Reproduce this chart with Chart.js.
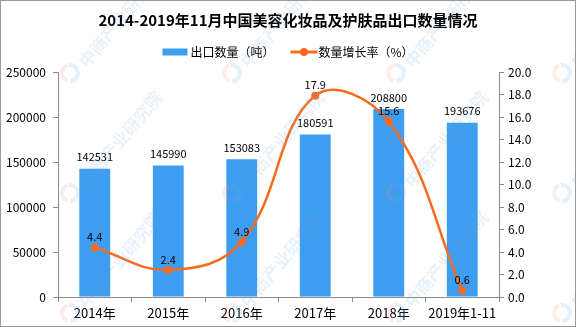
<!DOCTYPE html>
<html>
<head>
<meta charset="utf-8">
<script src="https://cdn.jsdelivr.net/npm/chart.js@4.4.1/dist/chart.umd.min.js"></script>
<style>
html, body { margin: 0; padding: 0; background: #fff; }
#wrap { width: 576px; height: 327px; }
</style>
</head>
<body>
<div id="wrap"><canvas id="exportCanvas" width="576" height="327"></canvas></div>
<script>
const years = ["2014年", "2015年", "2016年", "2017年", "2018年", "2019年1-11"]
const exportTons = [142531, 145990, 153083, 180591, 208800, 193676]
const growthRate = [4.4, 2.4, 4.9, 17.9, 15.6, 0.6]
const tonTicks = [0, 50000, 100000, 150000, 200000, 250000]
const rateTicks = [0, 2, 4, 6, 8, 10, 12, 14, 16, 18, 20]

const BLUE = '#3d9df0'
const ORANGE = '#f86b1e'
const AXIS = '#8c8c8c'
const FONT = "'Noto Sans CJK SC', 'Liberation Sans', sans-serif"

// value labels above bars and line points
const valueLabels = {
    id: 'valueLabels',
    afterDatasetsDraw(chart) {
        const ctx = chart.ctx
        ctx.save()
        ctx.font = '11px ' + FONT
        ctx.fillStyle = '#000'
        ctx.textAlign = 'center'
        ctx.textBaseline = 'bottom'
        chart.getDatasetMeta(0).data.forEach((bar, i) => {
            ctx.fillText(String(exportTons[i]), bar.x, bar.y - 6)
        })
        chart.getDatasetMeta(1).data.forEach((pt, i) => {
            ctx.fillText(growthRate[i].toFixed(1), pt.x, pt.y - 5)
        })
        ctx.restore()
    }
}

// legend markers: blue block and orange line with a dot
const legendMarks = {
    id: 'legendMarks',
    afterDraw(chart) {
        const boxes = chart.legend.legendHitBoxes
        if (!boxes || boxes.length < 2) return
        const ctx = chart.ctx
        ctx.save()
        const a = boxes[0], b = boxes[1]
        const ya = a.top + a.height / 2
        ctx.fillStyle = BLUE
        ctx.fillRect(a.left, ya - 3.5, 25, 7)
        const yb = b.top + b.height / 2
        ctx.strokeStyle = ORANGE
        ctx.lineWidth = 3
        ctx.beginPath()
        ctx.moveTo(b.left, yb)
        ctx.lineTo(b.left + 27, yb)
        ctx.stroke()
        ctx.fillStyle = ORANGE
        ctx.beginPath()
        ctx.arc(b.left + 13.5, yb, 4, 0, Math.PI * 2)
        ctx.fill()
        ctx.restore()
    }
}

// faint diagonal watermark and frame
const watermark = {
    id: 'watermark',
    afterDraw(chart) {
        const ctx = chart.ctx
        ctx.save()
        const cols = [-94, 70, 232, 396, 562]
        const rows = [73, 193, 313]
        ctx.font = 'bold 17px ' + FONT
        ctx.textBaseline = 'middle'
        cols.forEach(cx => {
            rows.forEach(cy => {
                ctx.save()
                ctx.translate(cx, cy)
                ctx.lineWidth = 4
                ctx.strokeStyle = 'rgba(240,140,110,0.16)'
                ctx.beginPath()
                ctx.arc(0, 0, 8, Math.PI * 0.6, Math.PI * 1.4)
                ctx.stroke()
                ctx.strokeStyle = 'rgba(110,170,225,0.18)'
                ctx.beginPath()
                ctx.arc(0, 0, 8, Math.PI * 1.45, Math.PI * 2.5)
                ctx.stroke()
                ctx.rotate(-50 * Math.PI / 180)
                ctx.fillStyle = 'rgba(110,170,225,0.16)'
                ctx.fillText('中商产业研究院', 14, 4)
                ctx.restore()
            })
        })
        ctx.strokeStyle = '#9a9a9a'
        ctx.lineWidth = 1
        ctx.strokeRect(0.5, 0.5, chart.width - 1, chart.height - 1)
        ctx.restore()
    }
}

const exportCanvas = document.getElementById('exportCanvas')

const exportChart = new Chart(exportCanvas, {
    type: 'bar',
    data: {
        labels: years,
        datasets: [{
            type: 'bar',
            label: '出口数量（吨）　',
            data: exportTons,
            backgroundColor: BLUE,
            barPercentage: 0.42,
            categoryPercentage: 1,
            yAxisID: 'y',
            order: 1
        }, {
            type: 'line',
            label: '数量增长率（%）',
            data: growthRate,
            borderColor: ORANGE,
            backgroundColor: ORANGE,
            borderWidth: 2.5,
            pointRadius: 4,
            pointBorderWidth: 0,
            pointBackgroundColor: ORANGE,
            tension: 0.4,
            yAxisID: 'y1',
            order: 0
        }]
    },
    options: {
        responsive: false,
        animation: false,
        devicePixelRatio: 1,
        layout: { padding: 0 },
        plugins: {
            title: {
                display: true,
                text: '2014-2019年11月中国美容化妆品及护肤品出口数量情况',
                color: '#000',
                font: { family: FONT, size: 15, weight: 'bold' },
                padding: { top: 11, bottom: 3 }
            },
            legend: {
                display: true,
                labels: {
                    color: '#000',
                    font: { family: FONT, size: 12 },
                    boxWidth: 22,
                    boxHeight: 20,
                    padding: 10,
                    generateLabels(chart) {
                        return chart.data.datasets.map((ds, i) => ({
                            text: ds.label,
                            fillStyle: 'rgba(0,0,0,0)',
                            strokeStyle: 'rgba(0,0,0,0)',
                            lineWidth: 0,
                            fontColor: '#000',
                            datasetIndex: i
                        }))
                    }
                }
            },
            tooltip: { enabled: false }
        },
        scales: {
            x: {
                grid: { display: true, drawOnChartArea: false, tickLength: 5, color: AXIS, offset: true },
                border: { color: AXIS },
                ticks: { color: '#000', font: { family: FONT, size: 13 }, padding: 3, maxRotation: 0 },
                afterFit(scale) { scale.height = 30 }
            },
            y: {
                position: 'left',
                min: 0,
                max: 250000,
                afterBuildTicks(scale) { scale.ticks = tonTicks.map(v => ({ value: v })) },
                grid: { display: true, drawOnChartArea: false, tickLength: 5, color: AXIS },
                border: { color: AXIS },
                ticks: {
                    color: '#000',
                    font: { family: FONT, size: 12 },
                    padding: 7,
                    callback: v => String(v)
                },
                afterFit(scale) { scale.width = 58 }
            },
            y1: {
                position: 'right',
                min: 0,
                max: 20,
                afterBuildTicks(scale) { scale.ticks = rateTicks.map(v => ({ value: v })) },
                grid: { display: true, drawOnChartArea: false, tickLength: 5, color: AXIS },
                border: { color: AXIS },
                ticks: {
                    color: '#000',
                    font: { family: FONT, size: 12 },
                    padding: 4,
                    callback: v => Number(v).toFixed(1)
                },
                afterFit(scale) { scale.width = 77 }
            }
        }
    },
    plugins: [valueLabels, legendMarks, watermark]
})
</script>
</body>
</html>
